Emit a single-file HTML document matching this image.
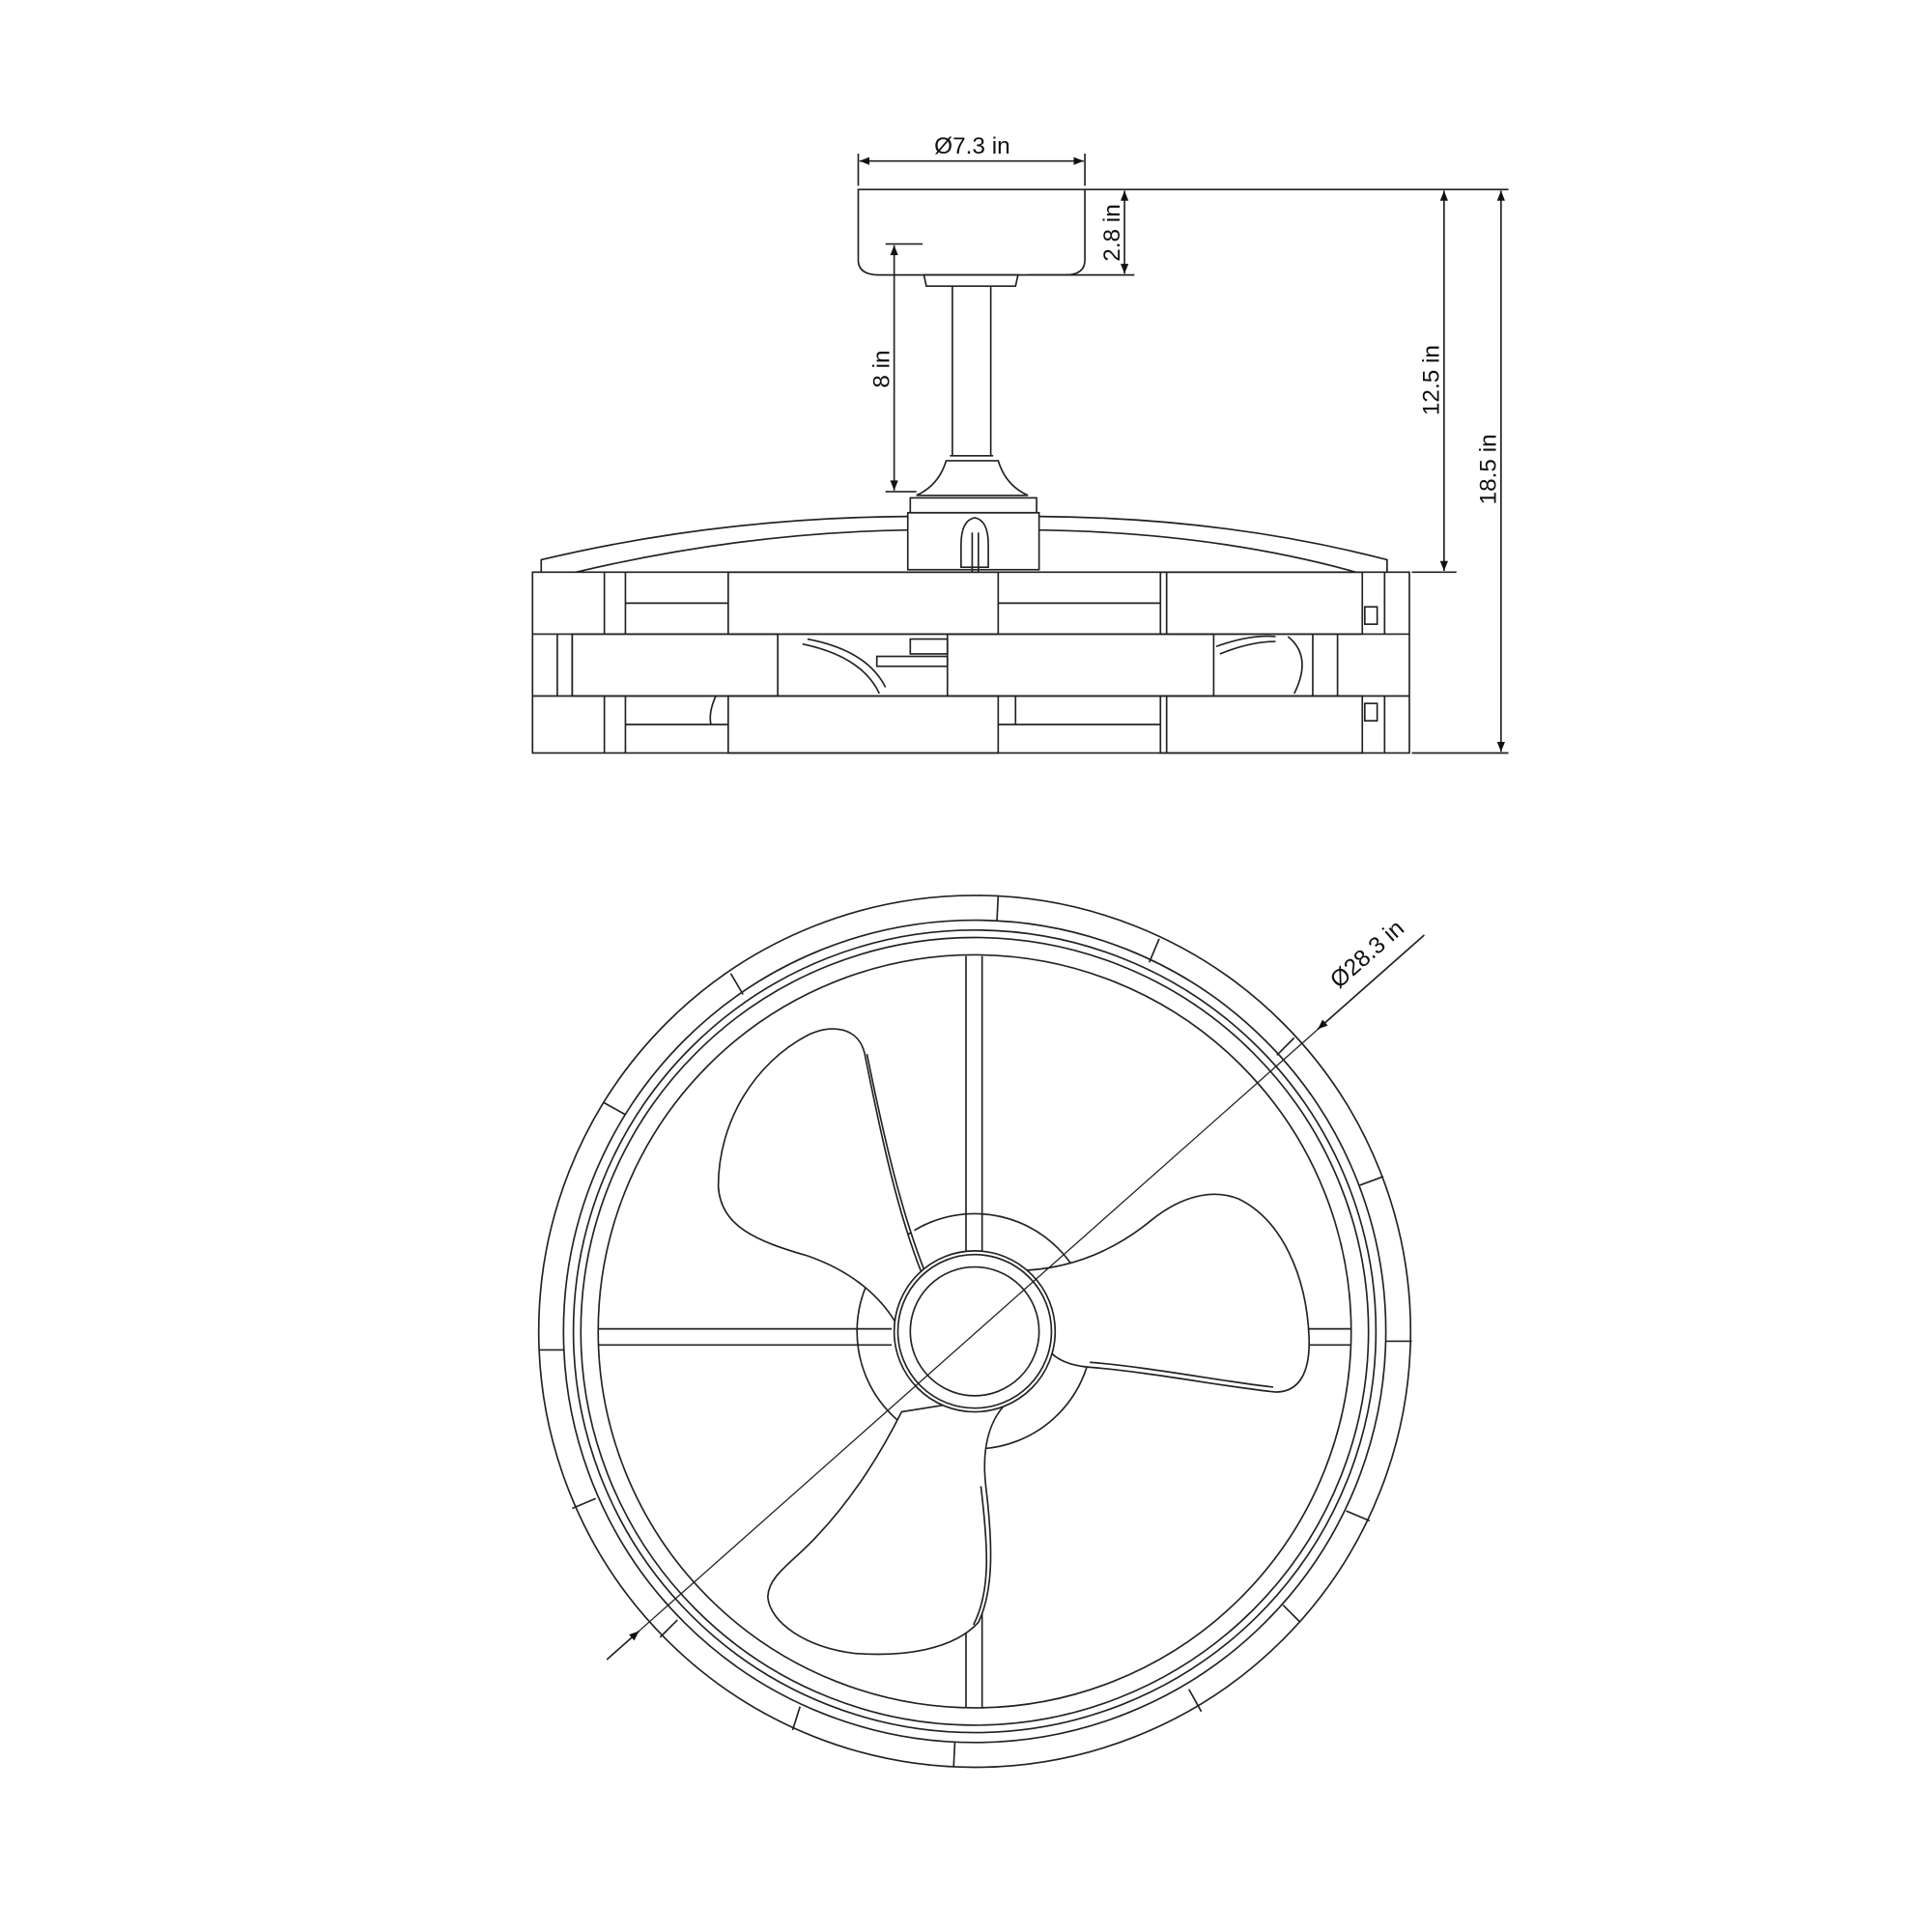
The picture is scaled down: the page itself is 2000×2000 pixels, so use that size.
<!DOCTYPE html>
<html><head><meta charset="utf-8"><style>
html,body{margin:0;padding:0;background:#fff;}
svg{display:block}
text{font-family:"Liberation Sans",Arial,sans-serif;font-size:19px;fill:#111}
</style></head><body>
<svg width="2000" height="2000" viewBox="0 0 1560 1560" xmlns="http://www.w3.org/2000/svg">
<defs>
<marker id="a" viewBox="0 0 10 10" refX="10" refY="5" markerWidth="12" markerHeight="8" orient="auto-start-reverse" markerUnits="userSpaceOnUse"><path d="M0,1 L10,5 L0,9 z" fill="#111"/></marker>
</defs>
<g fill="none" stroke="#222" stroke-width="1.3">
<line x1="693" y1="124" x2="693" y2="150"/><line x1="876" y1="124" x2="876" y2="150"/>
<line x1="694" y1="130" x2="875" y2="130" marker-start="url(#a)" marker-end="url(#a)"/>
<path d="M693,153 H876 V210 Q876,222 860,222 H710 Q693,222 693,210 Z"/>
<line x1="876" y1="153" x2="1218" y2="153"/>
<line x1="830" y1="222" x2="916" y2="222"/>
<line x1="908" y1="154" x2="908" y2="221" marker-start="url(#a)" marker-end="url(#a)"/>
<path d="M746,222 H822 L820,231 H748 Z"/>
<line x1="769" y1="231" x2="769" y2="368"/><line x1="800" y1="231" x2="800" y2="368"/>
<line x1="767" y1="368" x2="802" y2="368"/>
<line x1="715" y1="197" x2="745" y2="197"/>
<line x1="722" y1="198" x2="722" y2="396" marker-start="url(#a)" marker-end="url(#a)"/>
<line x1="715" y1="397" x2="740" y2="397"/>
<path d="M764,372 Q758,392 740,400 H830 Q812,392 806,372 Z"/>
<rect x="735" y="402" width="102" height="12"/>
<rect x="733" y="414" width="106" height="46"/>
<path d="M776,440 Q776,420 787,418 Q798,420 798,440 V458 H776 Z"/>
<line x1="785" y1="430" x2="785" y2="462"/><line x1="790" y1="430" x2="790" y2="462"/>
<path d="M437,462 V452 Q580,418 733,417"/><path d="M465,462 Q600,430 733,428"/>
<path d="M1120,462 V452 Q990,418 839,417"/><path d="M1095,462 Q980,430 839,428"/>
<line x1="1166" y1="154" x2="1166" y2="461" marker-start="url(#a)" marker-end="url(#a)"/>
<line x1="1140" y1="462" x2="1176" y2="462"/>
<line x1="1212" y1="154" x2="1212" y2="607" marker-start="url(#a)" marker-end="url(#a)"/>
<line x1="1140" y1="608" x2="1218" y2="608"/>
<rect x="430" y="462" width="708" height="146"/>
<line x1="430" y1="512" x2="1138" y2="512"/><line x1="430" y1="562" x2="1138" y2="562"/>
<line x1="488" y1="462" x2="488" y2="512"/><line x1="505" y1="462" x2="505" y2="512"/>
<rect x="588" y="462" width="218" height="50"/><line x1="505" y1="487" x2="588" y2="487"/>
<line x1="806" y1="487" x2="937" y2="487"/>
<rect x="937" y="462" width="163" height="50"/><line x1="942" y1="462" x2="942" y2="512"/>
<line x1="1118" y1="462" x2="1118" y2="512"/><rect x="1102" y="490" width="10" height="14"/>
<line x1="488" y1="562" x2="488" y2="608"/><line x1="505" y1="562" x2="505" y2="608"/>
<rect x="588" y="562" width="218" height="46"/><line x1="505" y1="585" x2="588" y2="585"/>
<line x1="806" y1="585" x2="937" y2="585"/><line x1="820" y1="562" x2="820" y2="585"/>
<rect x="937" y="562" width="163" height="46"/><line x1="942" y1="562" x2="942" y2="608"/>
<line x1="1118" y1="562" x2="1118" y2="608"/><rect x="1102" y="568" width="10" height="14"/>
<path d="M578,562 Q572,575 574,585"/>
<line x1="450" y1="512" x2="450" y2="562"/><line x1="462" y1="512" x2="462" y2="562"/>
<rect x="462" y="512" width="166" height="50"/>
<rect x="765" y="512" width="215" height="50"/>
<line x1="1060" y1="512" x2="1060" y2="562"/><line x1="1080" y1="512" x2="1080" y2="562"/>
<path d="M652,516 Q700,525 715,555 M648,520 Q696,530 710,560"/>
<rect x="735" y="516" width="30" height="12"/><rect x="708" y="530" width="57" height="8"/>
<path d="M982,522 Q1010,512 1030,514 M1040,514 Q1060,530 1045,560 M985,528 Q1010,518 1030,518"/>
<circle cx="787" cy="1075" r="352"/>
<circle cx="787" cy="1075" r="332"/>
<circle cx="787" cy="1075" r="324"/>
<circle cx="787" cy="1075" r="318"/>
<circle cx="787" cy="1075" r="304"/>
<g>
<line x1="806" y1="723" x2="805" y2="743"/>
<line x1="936" y1="758" x2="928" y2="777"/>
<line x1="1045" y1="838" x2="1031" y2="852"/>
<line x1="1117" y1="950" x2="1098" y2="957"/>
<line x1="1140" y1="1083" x2="1119" y2="1083"/>
<line x1="1106" y1="1228" x2="1087" y2="1220"/>
<line x1="1050" y1="1310" x2="1036" y2="1296"/>
<line x1="970" y1="1382" x2="960" y2="1364"/>
<line x1="770" y1="1427" x2="771" y2="1407"/>
<line x1="640" y1="1397" x2="646" y2="1378"/>
<line x1="533" y1="1322" x2="547" y2="1308"/>
<line x1="462" y1="1218" x2="481" y2="1210"/>
<line x1="436" y1="1090" x2="456" y2="1090"/>
<line x1="487" y1="890" x2="505" y2="900"/>
<line x1="590" y1="786" x2="600" y2="803"/>
</g>
<line x1="780" y1="772" x2="780" y2="1040"/><line x1="793" y1="772" x2="793" y2="1030"/>
<line x1="780" y1="1145" x2="780" y2="1379"/><line x1="793" y1="1145" x2="793" y2="1379"/>
<line x1="483" y1="1073" x2="720" y2="1073"/><line x1="483" y1="1086" x2="720" y2="1086"/>
<line x1="1048" y1="1073" x2="1091" y2="1073"/><line x1="1048" y1="1086" x2="1091" y2="1086"/>
<circle cx="787" cy="1075" r="95"/>
<g fill="#fff">
<path d="M745,1030 C725,980 712,920 698,850 C693,830 672,826 652,836 C610,858 580,905 580,958 C582,990 610,1002 652,1014 C692,1028 712,1050 722,1066 Z"/>
<path d="M818,1026 C850,1026 890,1018 930,985 C955,965 980,960 1000,968 C1035,985 1055,1030 1057,1080 C1058,1110 1048,1124 1030,1124 C990,1120 930,1108 880,1104 C855,1102 845,1092 842,1080 Z"/>
<path d="M822,1125 C800,1140 792,1165 796,1200 C802,1250 802,1285 790,1310 C770,1332 730,1338 690,1335 C650,1330 622,1310 620,1290 C620,1272 640,1262 660,1240 C690,1208 712,1172 728,1140 Z"/>
<path d="M700,851 C714,920 728,980 748,1030" />
<path d="M1028,1120 C990,1116 930,1104 880,1100"/>
<path d="M786,1312 C800,1285 798,1250 792,1200"/>
</g>
<circle cx="787" cy="1075" r="65" fill="#fff"/>
<circle cx="787" cy="1075" r="62"/>
<circle cx="787" cy="1075" r="52"/>
<line x1="490" y1="1340" x2="1150" y2="755" stroke-width="1"/>
<line x1="490" y1="1340" x2="516" y2="1317" marker-end="url(#a)"/>
<line x1="1150" y1="755" x2="1064" y2="831" marker-end="url(#a)"/>
</g>
<text x="785" y="124" text-anchor="middle">Ø7.3 in</text>
<text transform="translate(904,188) rotate(-90)" text-anchor="middle">2.8 in</text>
<text transform="translate(718,298) rotate(-90)" text-anchor="middle">8 in</text>
<text transform="translate(1162,307) rotate(-90)" text-anchor="middle">12.5 in</text>
<text transform="translate(1208,379) rotate(-90)" text-anchor="middle">18.5 in</text>
<text transform="translate(1108,775) rotate(-41.5)" text-anchor="middle">Ø28.3 in</text>
</svg>
</body></html>
